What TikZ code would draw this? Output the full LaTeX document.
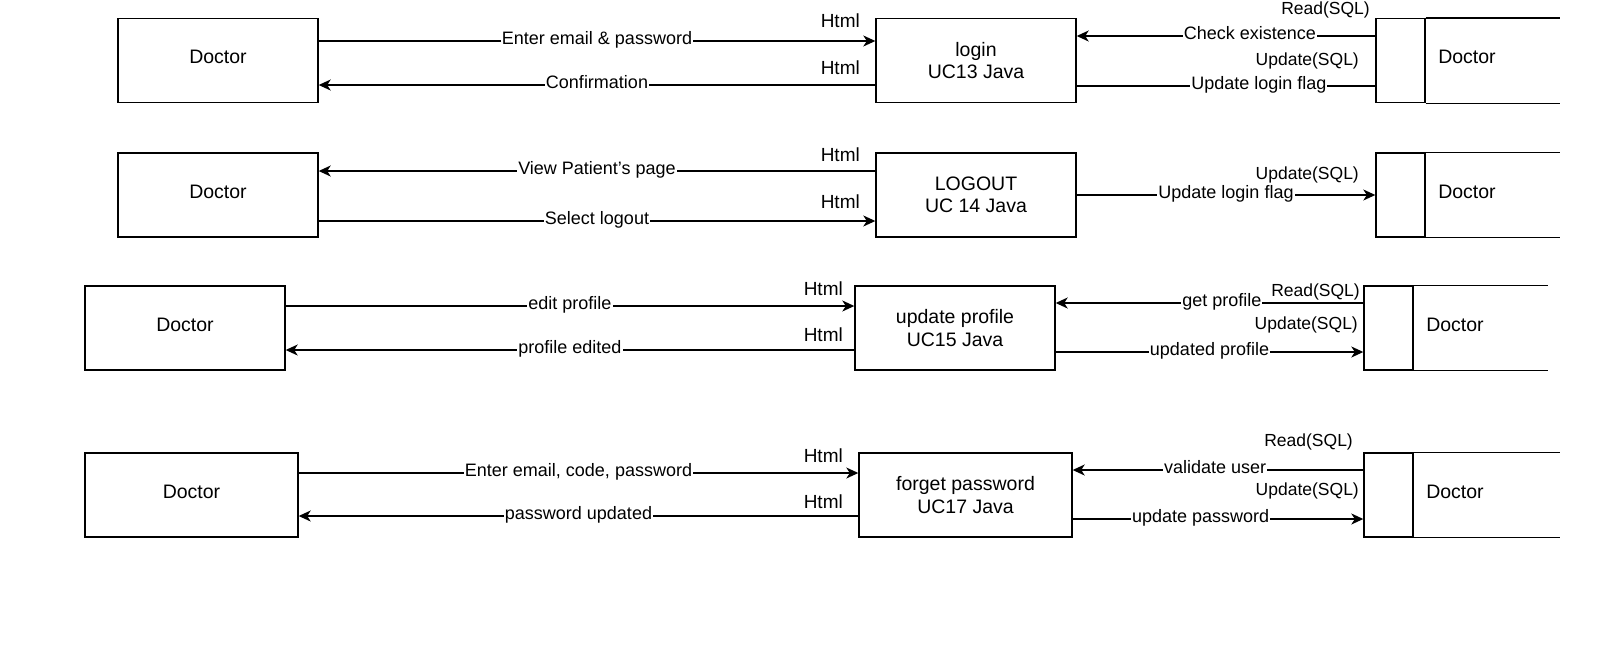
\documentclass[tikz,border=0pt]{standalone}
\usepackage{fontspec}
\setmainfont{Liberation Sans}
\usetikzlibrary{arrows.meta,positioning}

\tikzset{
  ent/.style={draw, line width=1.4pt, minimum width=200pt, minimum height=84pt,
    align=center, font=\fontsize{19.5}{22.5}\selectfont},
  store/.style={draw, line width=1.4pt, minimum width=49pt, minimum height=84pt},
  dstext/.style={font=\fontsize{19.5}{22.5}\selectfont},
  flow/.style={line width=1.4pt, -{Stealth[length=12pt,width=11pt,inset=3.5pt]}},
  plain/.style={line width=1.4pt},
  lab/.style={fill=white, inner sep=1pt, font=\fontsize{18}{21}\selectfont},
  tag/.style={inner sep=0pt, font=\fontsize{19}{22}\selectfont},
  sqltag/.style={inner sep=0pt, font=\fontsize{17.5}{21}\selectfont},
}

\begin{document}
\begin{tikzpicture}[x=1pt, y=-1pt, text height=1.5ex, text depth=0.25ex]
	\useasboundingbox (0,0) rectangle (1600,662);
	% login
	\node[ent] (Doc1) at (218,60.5) {Doctor};
	\node[ent, text height=, text depth=] (Login) at (976,60.5) {login\\UC13 Java};
	\node[store] (St1) at (1400.5,60.5) {};
	\node[dstext, right=9pt of St1] (DbT1) {Doctor};
	\draw[plain] (St1.north east) -- ++(134,0);
	\draw[plain] (St1.south east) -- ++(134,0);
	\draw[flow] ([yshift=19.5pt]Doc1.east) -- node[lab] {Enter email \& password} ([yshift=19.5pt]Login.west);
	\draw[flow] ([yshift=-24.5pt]Login.west) -- node[lab] {Confirmation} ([yshift=-24.5pt]Doc1.east);
	\draw[flow] ([yshift=24.5pt]St1.west) -- node[lab, pos=0.42] {Check existence} ([yshift=24.5pt]Login.east);
	\draw[plain] ([yshift=-25.5pt]Login.east) -- node[lab, pos=0.61] {Update login flag} ([yshift=-25.5pt]St1.west);
	\node[tag, anchor=east] (Html1a) at (860,24) {Html};
	\node[tag, anchor=east] (Html1b) at (860,71) {Html};
	\node[sqltag, anchor=east] (Sql1a) at (1370,11) {Read(SQL)};
	\node[sqltag, anchor=east] (Sql1b) at (1359,62) {Update(SQL)};
	% logout
	\node[ent] (Doc2) at (218,195) {Doctor};
	\node[ent, text height=, text depth=] (Logout) at (976,195) {LOGOUT\\UC 14 Java};
	\node[store] (St2) at (1400.5,195) {};
	\node[dstext, right=9pt of St2] (DbT2) {Doctor};
	\draw[plain] (St2.north east) -- ++(134,0);
	\draw[plain] (St2.south east) -- ++(134,0);
	\draw[flow] ([yshift=24pt]Logout.west) -- node[lab] {View Patient's page} ([yshift=24pt]Doc2.east);
	\draw[flow] ([yshift=-26pt]Doc2.east) -- node[lab] {Select logout} ([yshift=-26pt]Logout.west);
	\draw[flow] (Logout.east) -- node[lab] {Update login flag} (St2.west);
	\node[tag, anchor=east] (Html2a) at (860,158.5) {Html};
	\node[tag, anchor=east] (Html2b) at (860,205.5) {Html};
	\node[sqltag, anchor=east] (Sql2b) at (1359,176) {Update(SQL)};
	% update profile
	\node[ent] (Doc3) at (185,328) {Doctor};
	\node[ent, text height=, text depth=] (Upd) at (955,328) {update profile\\UC15 Java};
	\node[store] (St3) at (1388.5,328) {};
	\node[dstext, right=9pt of St3] (DbT3) {Doctor};
	\draw[plain] (St3.north east) -- ++(134,0);
	\draw[plain] (St3.south east) -- ++(134,0);
	\draw[flow] ([yshift=22pt]Doc3.east) -- node[lab] {edit profile} ([yshift=22pt]Upd.west);
	\draw[flow] ([yshift=-22pt]Upd.west) -- node[lab] {profile edited} ([yshift=-22pt]Doc3.east);
	\draw[flow] ([yshift=25pt]St3.west) -- node[lab, pos=0.46] {get profile} ([yshift=25pt]Upd.east);
	\draw[flow] ([yshift=-24pt]Upd.east) -- node[lab] {updated profile} ([yshift=-24pt]St3.west);
	\node[tag, anchor=east] (Html3a) at (843,292.5) {Html};
	\node[tag, anchor=east] (Html3b) at (843,338.5) {Html};
	\node[sqltag, anchor=east] (Sql3a) at (1360,293) {Read(SQL)};
	\node[sqltag, anchor=east] (Sql3b) at (1358,326) {Update(SQL)};
	% forget password
	\node[ent, minimum width=213pt] (Doc4) at (191.5,495) {Doctor};
	\node[ent, minimum width=213pt, text height=, text depth=] (Fgt) at (965.5,495) {forget password\\UC17 Java};
	\node[store] (St4) at (1388.5,495) {};
	\node[dstext, right=9pt of St4] (DbT4) {Doctor};
	\draw[plain] (St4.north east) -- ++(146,0);
	\draw[plain] (St4.south east) -- ++(146,0);
	\draw[flow] ([yshift=22pt]Doc4.east) -- node[lab] {Enter email, code, password} ([yshift=22pt]Fgt.west);
	\draw[flow] ([yshift=-21pt]Fgt.west) -- node[lab] {password updated} ([yshift=-21pt]Doc4.east);
	\draw[flow] ([yshift=25pt]St4.west) -- node[lab, pos=0.51] {validate user} ([yshift=25pt]Fgt.east);
	\draw[flow] ([yshift=-24pt]Fgt.east) -- node[lab, pos=0.44] {update password} ([yshift=-24pt]St4.west);
	\node[tag, anchor=east] (Html4a) at (843,459.5) {Html};
	\node[tag, anchor=east] (Html4b) at (843,505.5) {Html};
	\node[sqltag, anchor=east] (Sql4a) at (1353,443) {Read(SQL)};
	\node[sqltag, anchor=east] (Sql4b) at (1359,492.5) {Update(SQL)};
\end{tikzpicture}
\end{document}
